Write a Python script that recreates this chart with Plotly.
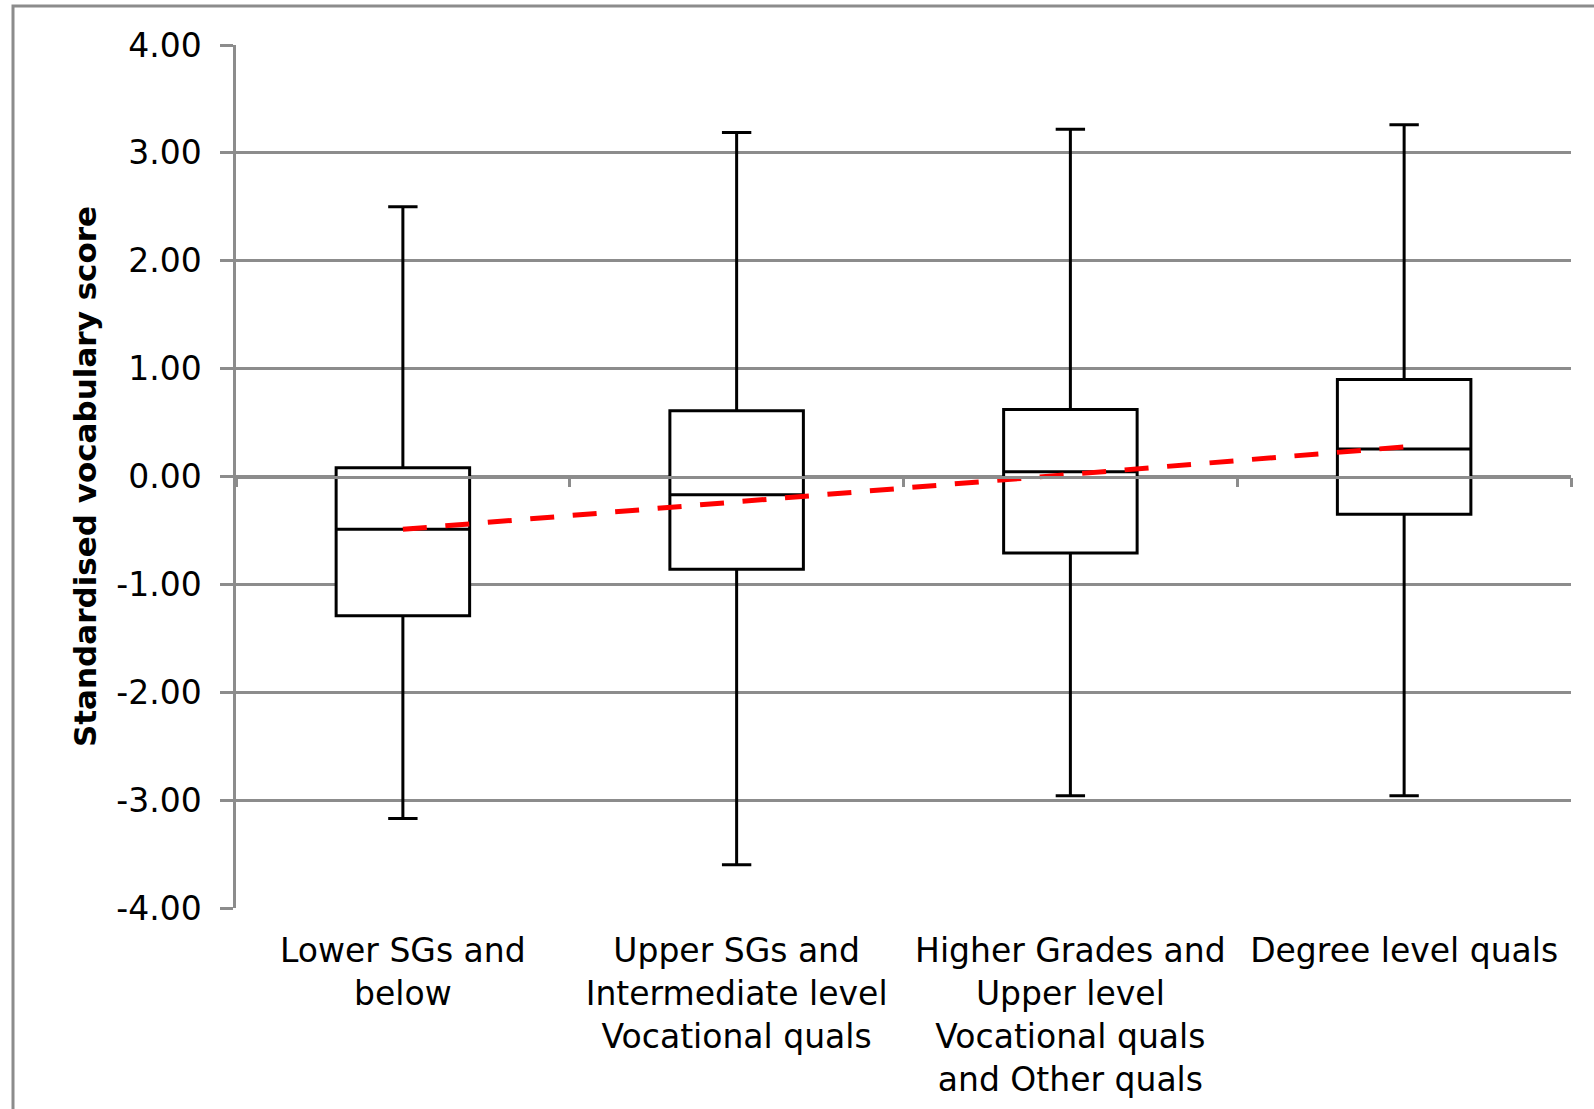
import plotly.graph_objects as go

categories = [
    "Lower SGs and<br>below",
    "Upper SGs and<br>Intermediate level<br>Vocational quals",
    "Higher Grades and<br>Upper level<br>Vocational quals<br>and Other quals",
    "Degree level quals",
]
upper_whisker = [2.50, 3.19, 3.22, 3.26]
q3 = [0.08, 0.61, 0.62, 0.90]
median = [-0.49, -0.17, 0.045, 0.255]
q1 = [-1.29, -0.86, -0.71, -0.35]
lower_whisker = [-3.17, -3.60, -2.96, -2.96]
trend = [-0.49, -0.235, 0.02, 0.275]
y_ticks = [-4, -3, -2, -1, 0, 1, 2, 3, 4]
y_tick_labels = ["-4.00", "-3.00", "-2.00", "-1.00", "0.00", "1.00", "2.00", "3.00", "4.00"]

FONT = "DejaVu Sans, Liberation Sans, Arial, sans-serif"
GRID = "#8c8c8c"
W, H = 1594, 1109
L, R, T, B = 236, 23, 45, 201
ymin, ymax = -4, 4
n = len(categories)
idx = list(range(n))
bounds = [i - 0.5 for i in range(n + 1)]

fig = go.Figure()
fig.add_trace(go.Box(
    x=categories, q1=q1, median=median, q3=q3,
    lowerfence=lower_whisker, upperfence=upper_whisker,
    boxpoints=False, width=0.4, whiskerwidth=0.22,
    fillcolor="white", line=dict(color="black", width=3),
    showlegend=False, hoverinfo="skip",
))
fig.add_trace(go.Scatter(
    x=idx, y=trend, xaxis="x2", mode="lines",
    line=dict(color="#ff0000", width=5, dash="24px,18.6px"),
    showlegend=False, hoverinfo="skip",
))

pw = W - L - R
ph = H - T - B
fig.add_shape(type="rect", xref="paper", yref="paper",
              x0=(13 - L) / pw, x1=1.1, y0=-0.4, y1=(H - B - 6) / ph,
              line=dict(color="#8c8c8c", width=3), layer="below")

fig.update_layout(
    width=W, height=H,
    margin=dict(l=L, r=R, t=T, b=B, pad=0, autoexpand=False),
    paper_bgcolor="white", plot_bgcolor="white",
    font=dict(family=FONT, color="black", size=33),
    xaxis=dict(
        type="category", range=[-0.5, n - 0.5], automargin=False,
        showgrid=False, showline=False, zeroline=False, ticks="",
        tickfont=dict(size=33, family=FONT, color="black"),
        ticklabelstandoff=20,
    ),
    xaxis2=dict(
        overlaying="x", anchor="free", position=(0 - ymin) / (ymax - ymin),
        side="bottom", range=[-0.5, n - 0.5], automargin=False,
        showline=True, linecolor=GRID, linewidth=2.5,
        ticks="outside", tickvals=bounds, ticklen=9, tickwidth=2.5, tickcolor=GRID,
        showticklabels=False, showgrid=False, zeroline=False,
    ),
    yaxis=dict(
        range=[ymin, ymax], tickvals=y_ticks, ticktext=y_tick_labels,
        automargin=False,
        showgrid=True, gridcolor=GRID, gridwidth=2.5,
        showline=True, linecolor=GRID, linewidth=2.5,
        zeroline=False,
        ticks="outside", ticklen=13, tickwidth=2.5, tickcolor=GRID,
        tickfont=dict(size=33, family=FONT, color="black"),
        ticklabelstandoff=12,
        title=dict(text="<b>Standardised vocabulary score</b>",
                   font=dict(size=31, family=FONT, color="black"), standoff=11),
    ),
)

fig.write_html("out.html", config={"displayModeBar": False},
               post_script="document.body.style.margin='0px';")
